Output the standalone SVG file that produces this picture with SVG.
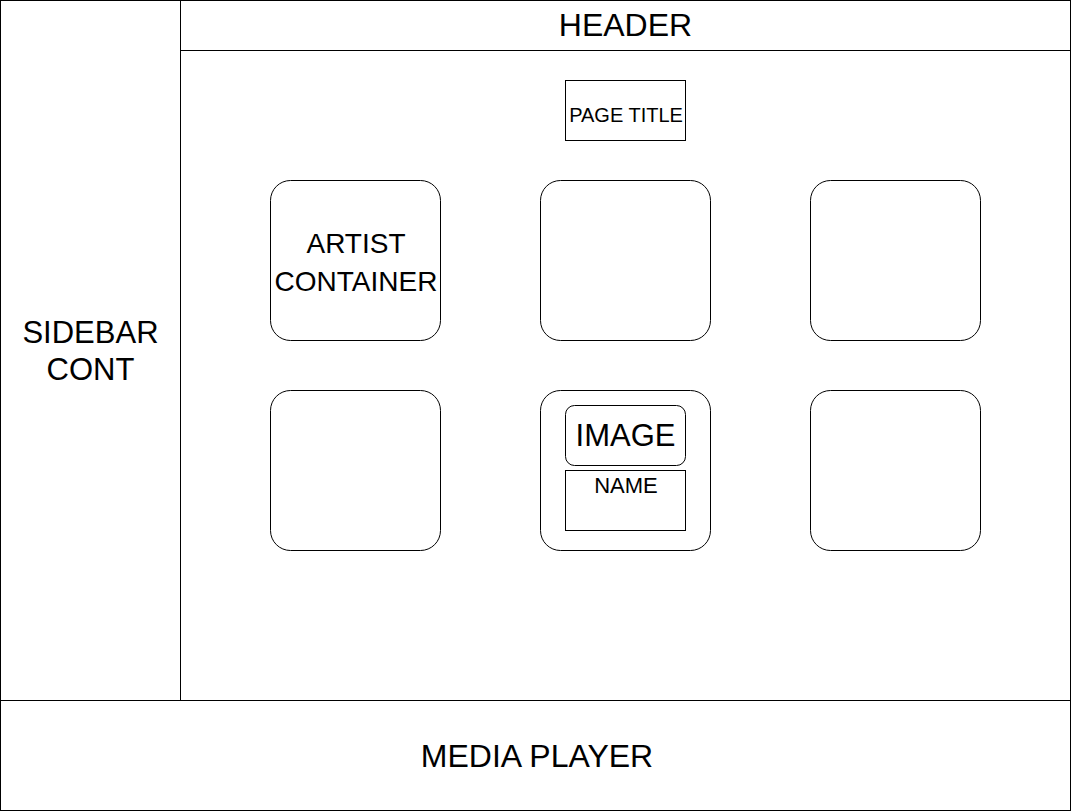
<svg xmlns="http://www.w3.org/2000/svg" width="1071" height="811" viewBox="0 0 1071 811">
<style>
.b{fill:#fff;stroke:#000;stroke-width:1}
.t{font-family:"Liberation Sans",Arial,sans-serif;fill:#000;text-anchor:middle}
</style>
<rect x="0" y="0" width="1071" height="811" fill="#fff"/>
<g id="sidebar"><rect class="b" x="0.5" y="0.5" width="180" height="700"/><text class="t" font-size="31" x="90.5" y="343">SIDEBAR</text><text class="t" font-size="31" x="90.5" y="380">CONT</text></g>
<g id="header"><rect class="b" x="180.5" y="0.5" width="890" height="50"/><text class="t" font-size="32" x="625.5" y="36">HEADER</text></g>
<g id="main"><rect class="b" x="180.5" y="50.5" width="890" height="650"/></g>
<g id="media-player"><rect class="b" x="0.5" y="700.5" width="1070" height="110"/><text class="t" font-size="32" x="537" y="767">MEDIA PLAYER</text></g>
<g id="page-title"><rect class="b" x="565.5" y="80.5" width="120" height="60"/><text class="t" font-size="20" x="626" y="122">PAGE TITLE</text></g>
<g id="artist-1"><rect class="b" x="270.5" y="180.5" width="170" height="160" rx="20"/><text class="t" font-size="28" x="356" y="253">ARTIST</text><text class="t" font-size="28" x="356" y="291">CONTAINER</text></g>
<g id="artist-2"><rect class="b" x="540.5" y="180.5" width="170" height="160" rx="20"/></g>
<g id="artist-3"><rect class="b" x="810.5" y="180.5" width="170" height="160" rx="20"/></g>
<g id="artist-4"><rect class="b" x="270.5" y="390.5" width="170" height="160" rx="20"/></g>
<g id="artist-5"><rect class="b" x="540.5" y="390.5" width="170" height="160" rx="20"/></g>
<g id="artist-6"><rect class="b" x="810.5" y="390.5" width="170" height="160" rx="20"/></g>
<g id="image"><rect class="b" x="565.5" y="405.5" width="120" height="60" rx="9"/><text class="t" font-size="31" x="625.5" y="446">IMAGE</text></g>
<g id="name"><rect class="b" x="565.5" y="470.5" width="120" height="60"/><text class="t" font-size="22" x="626" y="493">NAME</text></g>
<g id="connectors"></g>
</svg>
